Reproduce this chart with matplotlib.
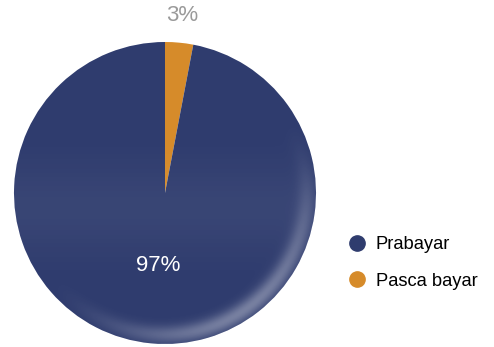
import numpy as np
import matplotlib.pyplot as plt
from matplotlib.lines import Line2D
from matplotlib.patches import Circle

plt.rcParams['font.family'] = ['Liberation Sans', 'DejaVu Sans']

labels = ['Pasca bayar', 'Prabayar']
values = [3, 97]
colors = ['#D68B2A', '#2F3C6E']
label_colors = ['#9A9A9A', 'white']
label_dist = [1.18, 0.48]

fig = plt.figure(figsize=(4.94, 3.47), dpi=100)
W, H = 494, 347
cx, cy, r = 165, 193, 151
ax = fig.add_axes([(cx - r) / W, (H - cy - r) / H, 2 * r / W, 2 * r / H])

wedges, _ = ax.pie(values, colors=colors, startangle=90, counterclock=False,
                   radius=1, wedgeprops=dict(linewidth=0))
ax.set_xlim(-1, 1)
ax.set_ylim(-1, 1)
ax.set_aspect('equal')
ax.axis('off')

# soft glossy shading on the disc
n = 400
xx, yy = np.meshgrid(np.linspace(-1, 1, n), np.linspace(1, -1, n))
rr = np.hypot(xx, yy)
ang = np.arctan2(yy, xx)
rim = np.exp(-((rr - 0.94) / 0.06) ** 2) * np.clip(-np.sin(ang - 0.6), 0, 1) ** 2
band = np.exp(-((yy + 0.1) / 0.3) ** 2) * 0.05
shade = np.zeros((n, n, 4))
shade[..., :3] = 1.0
shade[..., 3] = np.clip(rim * 0.35 + band, 0, 0.6)
im = ax.imshow(shade, extent=[-1, 1, -1, 1], zorder=3)
im.set_clip_path(Circle((0, 0), 1, transform=ax.transData))

for w, v, c, d in zip(wedges, values, label_colors, label_dist):
    mid = np.deg2rad((w.theta1 + w.theta2) / 2)
    ax.text(d * np.cos(mid), d * np.sin(mid), f'{v}%', color=c, fontsize=16,
            ha='center', va='center', clip_on=False, zorder=5)

handles = [Line2D([], [], marker='o', linestyle='', markersize=11,
                  markerfacecolor=colors[i], markeredgecolor=colors[i])
           for i in (1, 0)]
fig.legend(handles, [labels[1], labels[0]], loc='center left',
           bbox_to_anchor=(329 / W, 1 - 263 / H), frameon=False,
           fontsize=13.2, handletextpad=0.45, labelspacing=1.05,
           handlelength=1.2)

fig.savefig('out.png', dpi=100)
